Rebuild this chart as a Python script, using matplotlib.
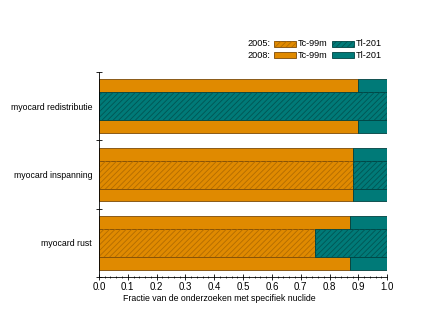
import numpy as np
import matplotlib
matplotlib.use('agg')
import matplotlib.pyplot as plt
from matplotlib.patches import Rectangle

plt.rcParams['font.family'] = ['Liberation Sans', 'DejaVu Sans']
plt.rcParams['hatch.linewidth'] = 0.6

# data (fractie Tc-99m, rest is Tl-201)
categories = ['myocard rust', 'myocard inspanning', 'myocard redistributie']
tc_2008 = [0.87, 0.88, 0.90]
tc_2005 = [0.75, 0.88, 0.00]
tl_2008 = [1 - v for v in tc_2008]
tl_2005 = [1 - v for v in tc_2005]

orange = '#e08a00'
teal = '#007a78'
orange_edge = '#7a4a08'
teal_edge = '#00403f'
orange_hatch = '#b26c00'
teal_hatch = '#005553'

fig = plt.figure(figsize=(4.36, 3.34), dpi=100)
ax = fig.add_axes([0.227, 0.171, 0.661, 0.613])

y = np.arange(len(categories))
# 2008: wide bars
ax.barh(y, tc_2008, height=0.79, color=orange, edgecolor=orange_edge, linewidth=0.6)
ax.barh(y, tl_2008, left=tc_2008, height=0.79, color=teal, edgecolor=teal_edge, linewidth=0.6)
# 2005: narrow hatched bars on top
ax.barh(y, tc_2005, height=0.41, color=orange, edgecolor=orange_edge, linewidth=0.6)
ax.barh(y, tl_2005, left=tc_2005, height=0.41, color=teal, edgecolor=teal_edge, linewidth=0.6)
ax.barh(y, tc_2005, height=0.41, color='none', edgecolor=orange_hatch, linewidth=0, hatch='//////')
ax.barh(y, tl_2005, left=tc_2005, height=0.41, color='none', edgecolor=teal_hatch, linewidth=0, hatch='//////')

ax.set_xlim(0, 1.0)
ax.set_ylim(-0.5, 2.5)
ax.set_xticks(np.arange(0, 1.01, 0.1))
ax.set_xticklabels(['%.1f' % v for v in np.arange(0, 1.01, 0.1)], fontsize=7)
ax.set_xticks(np.arange(0, 1.001, 0.02), minor=True)
ax.tick_params(axis='x', which='major', direction='inout', length=4, width=0.6, pad=2)
ax.tick_params(axis='x', which='minor', direction='inout', length=2, width=0.5)

# y: ticks at group edges, labels at group centres
ax.set_yticks([-0.5, 0.5, 1.5, 2.5])
ax.set_yticklabels([])
ax.set_yticks(y, minor=True)
ax.set_yticklabels(categories, minor=True, fontsize=6.3)
ax.tick_params(axis='y', which='major', direction='inout', length=5, width=0.6)
ax.tick_params(axis='y', which='minor', length=0, pad=5)

for s in ['top', 'right']:
    ax.spines[s].set_visible(False)
for s in ['left', 'bottom']:
    ax.spines[s].set_linewidth(0.6)

ax.set_xlabel('Fractie van de onderzoeken met specifiek nuclide', fontsize=6.3)
ax.xaxis.set_label_coords(0.417, -0.085)

# legend drawn by hand in figure pixels
W, H = 436.0, 334.0
rows = [('2005:', '//////', 44), ('2008:', None, 55)]
for label, hatch, yc in rows:
    fig.text(270 / W, 1 - yc / H, label, fontsize=6.6, ha='right', va='center')
    for x0, col, ec, hc, name in [(274, orange, orange_edge, orange_hatch, 'Tc-99m'),
                                  (332, teal, teal_edge, teal_hatch, 'Tl-201')]:
        fig.add_artist(Rectangle((x0 / W, 1 - (yc + 3) / H), 22 / W, 6 / H,
                                 facecolor=col, edgecolor=ec, linewidth=0.6,
                                 transform=fig.transFigure))
        if hatch:
            fig.add_artist(Rectangle((x0 / W, 1 - (yc + 3) / H), 22 / W, 6 / H,
                                     facecolor='none', edgecolor=hc, linewidth=0,
                                     hatch=hatch, transform=fig.transFigure))
        fig.text((x0 + 24) / W, 1 - yc / H, name, fontsize=6.6, ha='left', va='center')

fig.savefig('out.png', dpi=100)
